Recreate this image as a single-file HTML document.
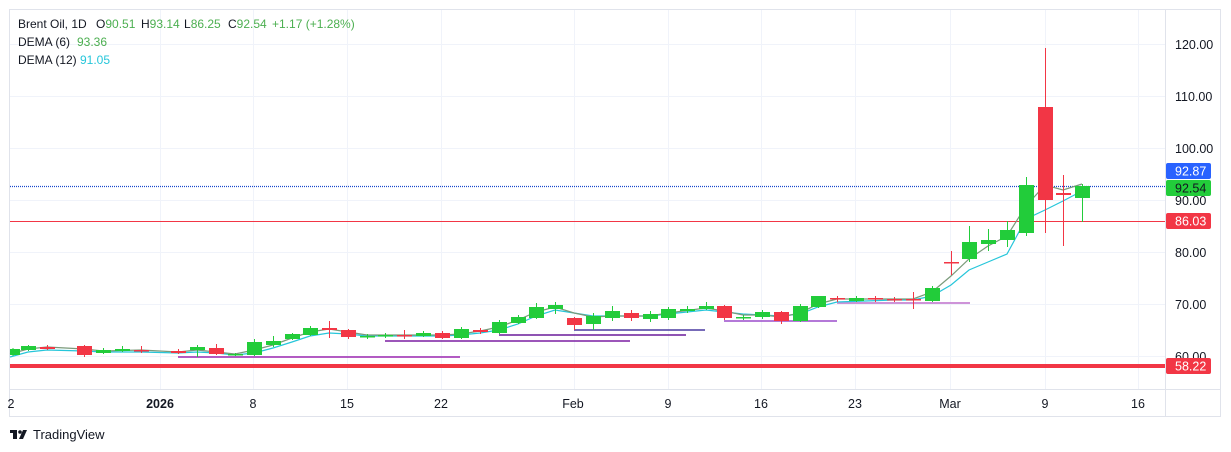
<!DOCTYPE html>
<html><head><meta charset="utf-8"><style>
html,body{margin:0;padding:0;background:#fff;width:1231px;height:452px;overflow:hidden}
svg text{font-family:"Liberation Sans","DejaVu Sans",sans-serif;white-space:pre}
</style></head><body>
<svg width="1231" height="452" xmlns="http://www.w3.org/2000/svg">
<rect x="9.5" y="9.5" width="1211" height="407" fill="#fff" stroke="#e0e3eb"/>
<g stroke="#f0f3fa" stroke-width="1">
<line x1="10" x2="1165" y1="44.5" y2="44.5"/><line x1="10" x2="1165" y1="96.5" y2="96.5"/>
<line x1="10" x2="1165" y1="148.5" y2="148.5"/><line x1="10" x2="1165" y1="200.5" y2="200.5"/>
<line x1="10" x2="1165" y1="252.5" y2="252.5"/><line x1="10" x2="1165" y1="304.5" y2="304.5"/>
<line x1="10" x2="1165" y1="356.5" y2="356.5"/>
<line x1="160.5" x2="160.5" y1="10" y2="389"/><line x1="253.5" x2="253.5" y1="10" y2="389"/>
<line x1="347.5" x2="347.5" y1="10" y2="389"/><line x1="441.5" x2="441.5" y1="10" y2="389"/>
<line x1="574.5" x2="574.5" y1="10" y2="389"/><line x1="668.5" x2="668.5" y1="10" y2="389"/>
<line x1="761.5" x2="761.5" y1="10" y2="389"/><line x1="855.5" x2="855.5" y1="10" y2="389"/>
<line x1="950.5" x2="950.5" y1="10" y2="389"/><line x1="1045.5" x2="1045.5" y1="10" y2="389"/>
<line x1="1138.5" x2="1138.5" y1="10" y2="389"/>
</g>
<line x1="1165.5" x2="1165.5" y1="10" y2="416" stroke="#e0e3eb"/>
<line x1="10" x2="1221" y1="389.5" y2="389.5" stroke="#e0e3eb"/>
<g stroke-width="1.5">
<line x1="178" x2="460" y1="357" y2="357" stroke="#9c27b0"/>
<line x1="385" x2="630" y1="341" y2="341" stroke="#7b1fa2"/>
<line x1="499" x2="686" y1="335" y2="335" stroke="#6a1b9a"/>
<line x1="574" x2="705" y1="330" y2="330" stroke="#4a3aa0"/>
<line x1="724" x2="837" y1="321" y2="321" stroke="#9c4dcc"/>
<line x1="837" x2="970" y1="303" y2="303" stroke="#ce93d8" stroke-width="2"/>
</g>
<line x1="10" x2="1165" y1="366" y2="366" stroke="#f23645" stroke-width="4"/>
<rect x="10" y="221" width="1155" height="1" fill="#f23645"/>
<line x1="10" x2="1165" y1="186.5" y2="186.5" stroke="#1848cc" stroke-width="1.3" stroke-dasharray="1,1"/>
<polyline fill="none" stroke="#26c6da" stroke-width="1.2" points="10,357 28,352 47,350 84,351 103,352 141,352 178,353 197,352 216,353 235,355 254,353 273,348 292,342 310,336 329,333 348,334 367,336 404,336 442,336 461,335 480,333 499,330 518,324 536,316 555,310 574,313 593,316 612,316 650,316 668,314 706,310 724,312 743,314 762,315 781,316 800,314 818,307 837,302 894,300 913,300 932,296 951,285 969,270 988,262 1007,254 1026,219 1045,210 1063,201 1082,191"/>
<polyline fill="none" stroke="#7a9a7a" stroke-width="1.2" points="10,354 28,349 47,347 84,349 103,351 141,350 178,352 197,350 216,352 235,354 254,350 273,345 292,338 310,332 329,329 348,332 367,335 404,335 442,335 461,334 480,331 499,327 518,320 536,312 555,307 574,313 593,317 612,316 650,316 668,313 706,308 724,311 743,315 762,315 781,317 800,313 818,304 837,299 894,299 913,299 932,292 951,276 969,259 988,246 1007,236 1026,206 1045,185 1063,190 1082,184"/>
<g>
<line x1="13" x2="13" y1="348" y2="356" stroke="#22cc3a"/><rect x="10" y="349" width="10" height="6" fill="#22cc3a"/>
</g>
<g stroke-width="1">
<line x1="28.5" x2="28.5" y1="345" y2="351" stroke="#22cc3a"/><rect x="21" y="346" width="15" height="4" fill="#22cc3a"/>
<line x1="47.5" x2="47.5" y1="345" y2="350" stroke="#f23645"/><rect x="40" y="347" width="15" height="2" fill="#f23645"/>
<line x1="84.5" x2="84.5" y1="345" y2="357" stroke="#f23645"/><rect x="77" y="346" width="15" height="9" fill="#f23645"/>
<line x1="103.5" x2="103.5" y1="348" y2="354" stroke="#22cc3a"/><rect x="96" y="350" width="15" height="3" fill="#22cc3a"/>
<line x1="122.5" x2="122.5" y1="346" y2="352" stroke="#22cc3a"/><rect x="115" y="349" width="15" height="2" fill="#22cc3a"/>
<line x1="141.5" x2="141.5" y1="346" y2="353" stroke="#f23645"/><rect x="134" y="350" width="15" height="1.5" fill="#f23645"/>
<line x1="178.5" x2="178.5" y1="349" y2="354" stroke="#f23645"/><rect x="171" y="351" width="15" height="2" fill="#f23645"/>
<line x1="197.5" x2="197.5" y1="345" y2="357" stroke="#22cc3a"/><rect x="190" y="347" width="15" height="3" fill="#22cc3a"/>
<line x1="216.5" x2="216.5" y1="344" y2="355" stroke="#f23645"/><rect x="209" y="348" width="15" height="6" fill="#f23645"/>
<line x1="235.5" x2="235.5" y1="353" y2="356" stroke="#22cc3a"/><rect x="228" y="354" width="15" height="1.5" fill="#22cc3a"/>
<line x1="254.5" x2="254.5" y1="339" y2="356" stroke="#22cc3a"/><rect x="247" y="342" width="15" height="13" fill="#22cc3a"/>
<line x1="273.5" x2="273.5" y1="336" y2="347" stroke="#22cc3a"/><rect x="266" y="341" width="15" height="4" fill="#22cc3a"/>
<line x1="292.5" x2="292.5" y1="333" y2="340" stroke="#22cc3a"/><rect x="285" y="334" width="15" height="5" fill="#22cc3a"/>
<line x1="310.5" x2="310.5" y1="326" y2="336" stroke="#22cc3a"/><rect x="303" y="328" width="15" height="7" fill="#22cc3a"/>
<line x1="329.5" x2="329.5" y1="321" y2="338" stroke="#f23645"/><rect x="322" y="328" width="15" height="2" fill="#f23645"/>
<line x1="348.5" x2="348.5" y1="329" y2="339" stroke="#f23645"/><rect x="341" y="330" width="15" height="7" fill="#f23645"/>
<line x1="367.5" x2="367.5" y1="334" y2="339" stroke="#22cc3a"/><rect x="360" y="336" width="15" height="1.5" fill="#22cc3a"/>
<line x1="385.5" x2="385.5" y1="333" y2="338" stroke="#22cc3a"/><rect x="378" y="335" width="15" height="1.5" fill="#22cc3a"/>
<line x1="404.5" x2="404.5" y1="330" y2="339" stroke="#f23645"/><rect x="397" y="335" width="15" height="1.5" fill="#f23645"/>
<line x1="423.5" x2="423.5" y1="331" y2="337" stroke="#22cc3a"/><rect x="416" y="333" width="15" height="3" fill="#22cc3a"/>
<line x1="442.5" x2="442.5" y1="331" y2="339" stroke="#f23645"/><rect x="435" y="333" width="15" height="5" fill="#f23645"/>
<line x1="461.5" x2="461.5" y1="327" y2="339" stroke="#22cc3a"/><rect x="454" y="329" width="15" height="9" fill="#22cc3a"/>
<line x1="480.5" x2="480.5" y1="328" y2="334" stroke="#f23645"/><rect x="473" y="330" width="15" height="2" fill="#f23645"/>
<line x1="499.5" x2="499.5" y1="320" y2="334" stroke="#22cc3a"/><rect x="492" y="322" width="15" height="11" fill="#22cc3a"/>
<line x1="518.5" x2="518.5" y1="315" y2="324" stroke="#22cc3a"/><rect x="511" y="317" width="15" height="6" fill="#22cc3a"/>
<line x1="536.5" x2="536.5" y1="303" y2="319" stroke="#22cc3a"/><rect x="529" y="307" width="15" height="11" fill="#22cc3a"/>
<line x1="555.5" x2="555.5" y1="302" y2="314" stroke="#22cc3a"/><rect x="548" y="305" width="15" height="4" fill="#22cc3a"/>
<line x1="574.5" x2="574.5" y1="317" y2="330" stroke="#f23645"/><rect x="567" y="318" width="15" height="7" fill="#f23645"/>
<line x1="593.5" x2="593.5" y1="313" y2="330" stroke="#22cc3a"/><rect x="586" y="316" width="15" height="8" fill="#22cc3a"/>
<line x1="612.5" x2="612.5" y1="306" y2="321" stroke="#22cc3a"/><rect x="605" y="311" width="15" height="7" fill="#22cc3a"/>
<line x1="631.5" x2="631.5" y1="310" y2="321" stroke="#f23645"/><rect x="624" y="313" width="15" height="5" fill="#f23645"/>
<line x1="650.5" x2="650.5" y1="311" y2="322" stroke="#22cc3a"/><rect x="643" y="314" width="15" height="5" fill="#22cc3a"/>
<line x1="668.5" x2="668.5" y1="307" y2="320" stroke="#22cc3a"/><rect x="661" y="309" width="15" height="9" fill="#22cc3a"/>
<line x1="687.5" x2="687.5" y1="306" y2="313" stroke="#22cc3a"/><rect x="680" y="309" width="15" height="2" fill="#22cc3a"/>
<line x1="706.5" x2="706.5" y1="302" y2="310" stroke="#22cc3a"/><rect x="699" y="306" width="15" height="3" fill="#22cc3a"/>
<line x1="724.5" x2="724.5" y1="305" y2="320" stroke="#f23645"/><rect x="717" y="306" width="15" height="12" fill="#f23645"/>
<line x1="743.5" x2="743.5" y1="315" y2="320" stroke="#22cc3a"/><rect x="736" y="317" width="15" height="1.5" fill="#22cc3a"/>
<line x1="762.5" x2="762.5" y1="310" y2="319" stroke="#22cc3a"/><rect x="755" y="312" width="15" height="5" fill="#22cc3a"/>
<line x1="781.5" x2="781.5" y1="311" y2="324" stroke="#f23645"/><rect x="774" y="312" width="15" height="9" fill="#f23645"/>
<line x1="800.5" x2="800.5" y1="304" y2="322" stroke="#22cc3a"/><rect x="793" y="306" width="15" height="15" fill="#22cc3a"/>
<line x1="818.5" x2="818.5" y1="296" y2="308" stroke="#22cc3a"/><rect x="811" y="296" width="15" height="11" fill="#22cc3a"/>
<line x1="837.5" x2="837.5" y1="296" y2="302" stroke="#f23645"/><rect x="830" y="298" width="15" height="1.5" fill="#f23645"/>
<line x1="856.5" x2="856.5" y1="296" y2="302" stroke="#22cc3a"/><rect x="849" y="298" width="15" height="3" fill="#22cc3a"/>
<line x1="875.5" x2="875.5" y1="296" y2="302" stroke="#f23645"/><rect x="868" y="298" width="15" height="1.5" fill="#f23645"/>
<line x1="894.5" x2="894.5" y1="297" y2="302" stroke="#f23645"/><rect x="887" y="299" width="15" height="1.5" fill="#f23645"/>
<line x1="913.5" x2="913.5" y1="292" y2="309" stroke="#f23645"/><rect x="906" y="299" width="15" height="1.5" fill="#f23645"/>
<line x1="932.5" x2="932.5" y1="286" y2="302" stroke="#22cc3a"/><rect x="925" y="288" width="15" height="13" fill="#22cc3a"/>
<line x1="951.5" x2="951.5" y1="251" y2="275" stroke="#f23645"/><rect x="944" y="262" width="15" height="1.5" fill="#f23645"/>
<line x1="969.5" x2="969.5" y1="226" y2="262" stroke="#22cc3a"/><rect x="962" y="242" width="15" height="17" fill="#22cc3a"/>
<line x1="988.5" x2="988.5" y1="229" y2="251" stroke="#22cc3a"/><rect x="981" y="240" width="15" height="4" fill="#22cc3a"/>
<line x1="1007.5" x2="1007.5" y1="221" y2="247" stroke="#22cc3a"/><rect x="1000" y="230" width="15" height="10" fill="#22cc3a"/>
<line x1="1026.5" x2="1026.5" y1="177" y2="236" stroke="#22cc3a"/><rect x="1019" y="185" width="15" height="48" fill="#22cc3a"/>
<line x1="1045.5" x2="1045.5" y1="48" y2="233" stroke="#f23645"/><rect x="1038" y="107" width="15" height="93" fill="#f23645"/>
<line x1="1063.5" x2="1063.5" y1="175" y2="246" stroke="#f23645"/><rect x="1056" y="193" width="15" height="2" fill="#f23645"/>
<line x1="1082.5" x2="1082.5" y1="184" y2="222" stroke="#22cc3a"/><rect x="1075" y="186" width="15" height="12" fill="#22cc3a"/>
</g>
<g font-size="12.5" fill="#131722">
<text x="1175" y="49">120.00</text><text x="1175" y="101">110.00</text>
<text x="1175" y="153">100.00</text><text x="1175" y="205">90.00</text>
<text x="1175" y="257">80.00</text><text x="1175" y="309">70.00</text>
<text x="1175" y="361">60.00</text>
</g>
<rect x="1166" y="163" width="45" height="16" rx="2" fill="#2962ff"/><text x="1175" y="175.5" font-size="12.5" fill="#fff">92.87</text>
<rect x="1166" y="180" width="45" height="16" rx="2" fill="#22cc3a"/><text x="1175" y="192.5" font-size="12.5" fill="#131722">92.54</text>
<rect x="1166" y="213" width="45" height="16" rx="2" fill="#f23645"/><text x="1175" y="225.5" font-size="12.5" fill="#fff">86.03</text>
<rect x="1166" y="358" width="45" height="16" rx="2" fill="#f23645"/><text x="1175" y="370.5" font-size="12.5" fill="#fff">58.22</text>
<g font-size="12.5" fill="#131722" text-anchor="middle">
<text x="11" y="408">2</text><text x="160" y="408" font-weight="bold">2026</text>
<text x="253" y="408">8</text><text x="347" y="408">15</text><text x="441" y="408">22</text>
<text x="573" y="408">Feb</text><text x="668" y="408">9</text><text x="761" y="408">16</text>
<text x="855" y="408">23</text><text x="950" y="408">Mar</text><text x="1045" y="408">9</text>
<text x="1138" y="408">16</text>
</g>
<g font-size="12" fill="#131722">
<text x="18" y="28">Brent Oil, 1D</text>
<text x="96" y="28">O<tspan fill="#4caf50">90.51</tspan></text>
<text x="141" y="28">H<tspan fill="#4caf50">93.14</tspan></text>
<text x="184" y="28">L<tspan fill="#4caf50">86.25</tspan></text>
<text x="228" y="28">C<tspan fill="#4caf50">92.54</tspan></text>
<text x="272" y="28" fill="#4caf50">+1.17 (+1.28%)</text>
<text x="18" y="46">DEMA (6)</text><text x="77" y="46" fill="#4caf50">93.36</text>
<text x="18" y="64">DEMA (12)</text><text x="80" y="64" fill="#26c6da">91.05</text>
</g>
<g fill="#131722">
<rect x="10" y="430" width="7" height="3"/><rect x="13" y="430" width="4" height="9"/>
<circle cx="20" cy="432" r="1.8"/><path d="M23 430 L27 430 L23 439 L19 439 Z"/>
</g>
<text x="33" y="439" font-size="13" fill="#131722">TradingView</text>
</svg>
</body></html>
